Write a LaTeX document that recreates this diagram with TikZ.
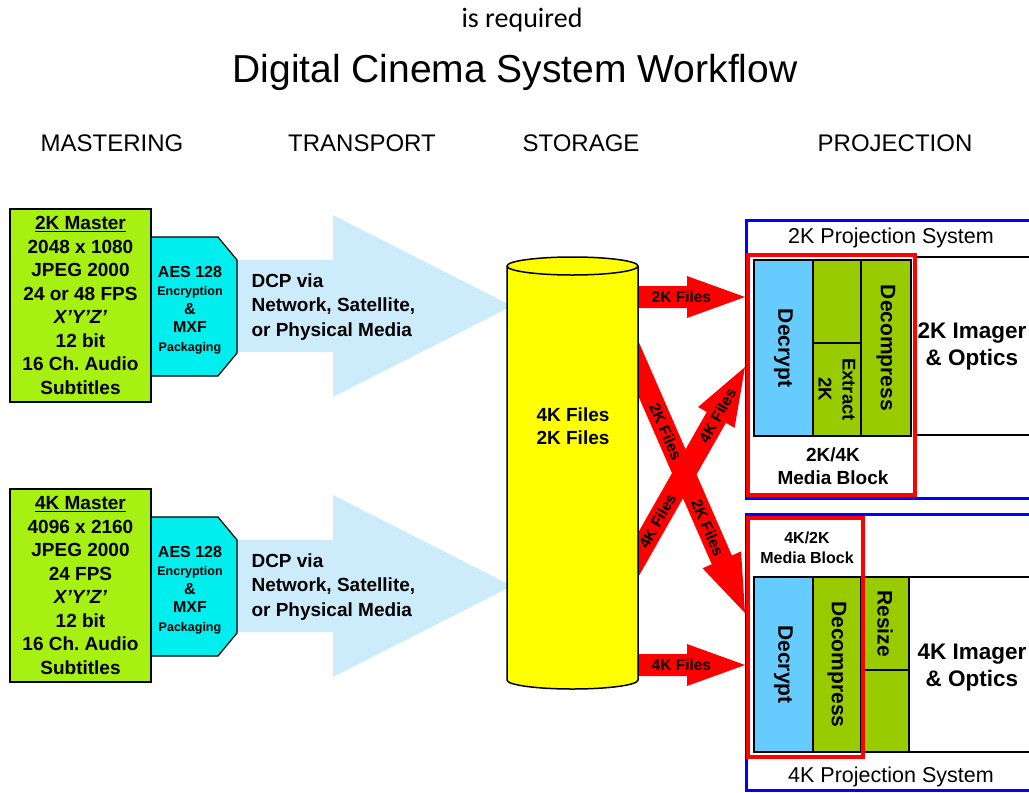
\documentclass[tikz,border=0pt]{standalone}
\usepackage{fontspec}
\setmainfont{Liberation Sans}
\newfontfamily\calibri{Carlito}
\usetikzlibrary{calc}

\definecolor{masterlime}{RGB}{166,240,18}
\definecolor{aescyan}{RGB}{0,238,238}
\definecolor{dcpblue}{RGB}{204,236,252}
\definecolor{decryptblue}{RGB}{102,204,255}
\definecolor{blockgreen}{RGB}{153,204,0}
\definecolor{cylyellow}{RGB}{255,255,0}

% block arrow: style, tail, tip, body half width, head half width, head length
\newcommand{\fatarrow}[6]{%
\coordinate (hb) at ($(#3)!#6!(#2)$);
\fill[#1] ($(#2)!#4!90:(#3)$) -- ($(hb)!#4!90:(#3)$) -- ($(hb)!#5!90:(#3)$) -- (#3) -- ($(hb)!#5!-90:(#3)$) -- ($(hb)!#4!-90:(#3)$) -- ($(#2)!#4!-90:(#3)$) -- cycle;
}

\begin{document}
\frenchspacing
\begin{tikzpicture}[x=1pt,y=-1pt]

\tikzset{
bigtitle/.style={font=\fontsize{39}{44}\selectfont},
header/.style={font=\fontsize{24}{28}\selectfont},
master/.style={draw=black,line width=1.5pt,fill=masterlime,minimum width=141pt,minimum height=193pt,inner sep=0pt,align=center,font=\fontsize{19}{23.5}\selectfont\bfseries},
aes/.style={draw=black,line width=1.2pt,fill=aescyan},
aestext/.style={align=center,font=\fontsize{16}{18.5}\selectfont\bfseries},
dcptext/.style={anchor=west,align=left,font=\fontsize{19}{24.5}\selectfont\bfseries},
cyl/.style={draw=black,line width=1.5pt,fill=cylyellow},
filelabel/.style={font=\fontsize{15.5}{18}\selectfont\bfseries,inner sep=0pt},
sysbox/.style={draw=blue,line width=3pt},
systitle/.style={font=\fontsize{21.5}{24}\selectfont},
cell/.style={draw=black,line width=1.5pt,inner sep=0pt},
vcell/.style={cell,rotate=-90,align=center,font=\fontsize{21}{24}\selectfont\bfseries},
mediablock/.style={draw=red,line width=4pt},
blocktext/.style={align=center,font=\fontsize{19}{23}\selectfont\bfseries},
imager/.style={align=center,font=\fontsize{22.5}{27}\selectfont\bfseries}
}

\useasboundingbox (0,0) rectangle (1029,793);

% Coordinates
\coordinate (t2kin) at (230,306);
\coordinate (t2kout) at (512,306);
\coordinate (t4kin) at (230,586);
\coordinate (t4kout) at (512,586);
\coordinate (h2kin) at (625,297);
\coordinate (h2kout) at (745,297);
\coordinate (h4kin) at (625,665);
\coordinate (h4kout) at (745,665);
\coordinate (x2kin) at (625,338);
\coordinate (x2kout) at (745,613);
\coordinate (x4kin) at (625,578);
\coordinate (x4kout) at (745,367);

% Transport arrows
\fatarrow{dcpblue}{t2kin}{t2kout}{46pt}{91pt}{179pt}
\fatarrow{dcpblue}{t4kin}{t4kout}{46pt}{91pt}{179pt}

% File arrows
\foreach \a/\b in {h2kin/h2kout,h4kin/h4kout,x2kin/x2kout,x4kin/x4kout}
  {\fatarrow{red}{\a}{\b}{11pt}{21pt}{58pt}}

% Storage
\draw[cyl] (507,266) -- (507,680) arc[start angle=180,end angle=0,x radius=65.5,y radius=9] -- (638,266) arc[start angle=0,end angle=-180,x radius=65.5,y radius=9] -- cycle;
\draw[line width=1.5pt] (507,266) arc[start angle=180,end angle=0,x radius=65.5,y radius=9];
\node[blocktext] (store) at (573,426) {4K Files\\2K Files};

\path (h2kin) -- (h2kout) node[filelabel,pos=0.47] (lh2k) {2K Files};
\path (h4kin) -- (h4kout) node[filelabel,pos=0.47] (lh4k) {4K Files};
\path (x2kin) -- (x2kout) node[filelabel,sloped,pos=0.34] (lx2ka) {2K Files} node[filelabel,sloped,pos=0.69] (lx2kb) {2K Files};
\path (x4kin) -- (x4kout) node[filelabel,sloped,pos=0.27] (lx4ka) {4K Files} node[filelabel,sloped,pos=0.77] (lx4kb) {4K Files};

% Mastering
\draw[aes] (151,237) -- (218,237) -- (237,260) -- (237,353) -- (218,376) -- (151,376) -- cycle;
\draw[aes] (151,517) -- (218,517) -- (237,540) -- (237,633) -- (218,656) -- (151,656) -- cycle;
\node[aestext] (aes2k) at (190,310) {AES 128\\{\fontsize{12.5}{18.5}\selectfont Encryption}\\\&\\MXF\\{\fontsize{12.5}{18.5}\selectfont Packaging}};
\node[aestext] (aes4k) at (190,590) {AES 128\\{\fontsize{12.5}{18.5}\selectfont Encryption}\\\&\\MXF\\{\fontsize{12.5}{18.5}\selectfont Packaging}};

\node[master] (m2k) at (80.5,305.5) {\underline{2K Master}\\2048 x 1080\\JPEG 2000\\24 or 48 FPS\\\textit{X'Y'Z'}\\12 bit\\16 Ch. Audio\\Subtitles};
\node[master] (m4k) at (80.5,585.5) {\underline{4K Master}\\4096 x 2160\\JPEG 2000\\24 FPS\\\textit{X'Y'Z'}\\12 bit\\16 Ch. Audio\\Subtitles};

\node[dcptext] (dcp2k) at (248,307) {DCP via\\Network, Satellite,\\or Physical Media};
\node[dcptext] (dcp4k) at (248,587) {DCP via\\Network, Satellite,\\or Physical Media};

% 2K projection system
\draw[sysbox] (746,220) rectangle (1045,498);
\node[systitle] (sys2k) at (891,238) {2K Projection System};
\draw[cell] (915,257) rectangle (1045,435);
\node[imager] (img2k) at (972,346) {2K Imager\\\& Optics};
\node[vcell,fill=decryptblue,minimum width=176pt,minimum height=59pt] (dcr2k) at (783.5,348) {Decrypt};
\node[cell,fill=blockgreen,minimum width=48pt,minimum height=83pt] (top2k) at (837,301.5) {};
\node[vcell,fill=blockgreen,minimum width=93pt,minimum height=48pt,font=\fontsize{18.5}{24}\selectfont\bfseries] (ext2k) at (837,389.5) {Extract\\2K};
\node[vcell,fill=blockgreen,minimum width=176pt,minimum height=50pt] (dcm2k) at (886,348) {Decompress};
\draw[mediablock] (748,255) rectangle (915,495);
\node[blocktext] (mb2k) at (833,466) {2K/4K\\Media Block};

% 4K projection system
\draw[sysbox] (746,514) rectangle (1045,790);
\node[systitle] (sys4k) at (891,777) {4K Projection System};
\draw[cell] (909,577) rectangle (1045,752);
\node[imager] (img4k) at (972,668) {4K Imager\\\& Optics};
\node[vcell,fill=decryptblue,minimum width=175pt,minimum height=59pt] (dcr4k) at (783.5,664.5) {Decrypt};
\node[vcell,fill=blockgreen,minimum width=175pt,minimum height=48pt] (dcm4k) at (837,664.5) {Decompress};
\node[vcell,fill=blockgreen,minimum width=93pt,minimum height=48pt] (rsz4k) at (885,623.5) {Resize};
\node[cell,fill=blockgreen,minimum width=48pt,minimum height=82pt] (bot4k) at (885,711) {};
\draw[mediablock] (748,518) rectangle (863,757);
\node[blocktext,font=\fontsize{16}{20}\selectfont\bfseries] (mb4k) at (807,548) {4K/2K\\Media Block};

% Labels
\node[font=\calibri\fontsize{28}{30}\selectfont] (req) at (522,20) {is required};
\node[bigtitle] (title) at (515,72) {Digital Cinema System Workflow};
\node[header] (hmas) at (112,143) {MASTERING};
\node[header] (htra) at (362,143) {TRANSPORT};
\node[header] (hsto) at (581,143) {STORAGE};
\node[header] (hpro) at (895,143) {PROJECTION};

\end{tikzpicture}
\end{document}
